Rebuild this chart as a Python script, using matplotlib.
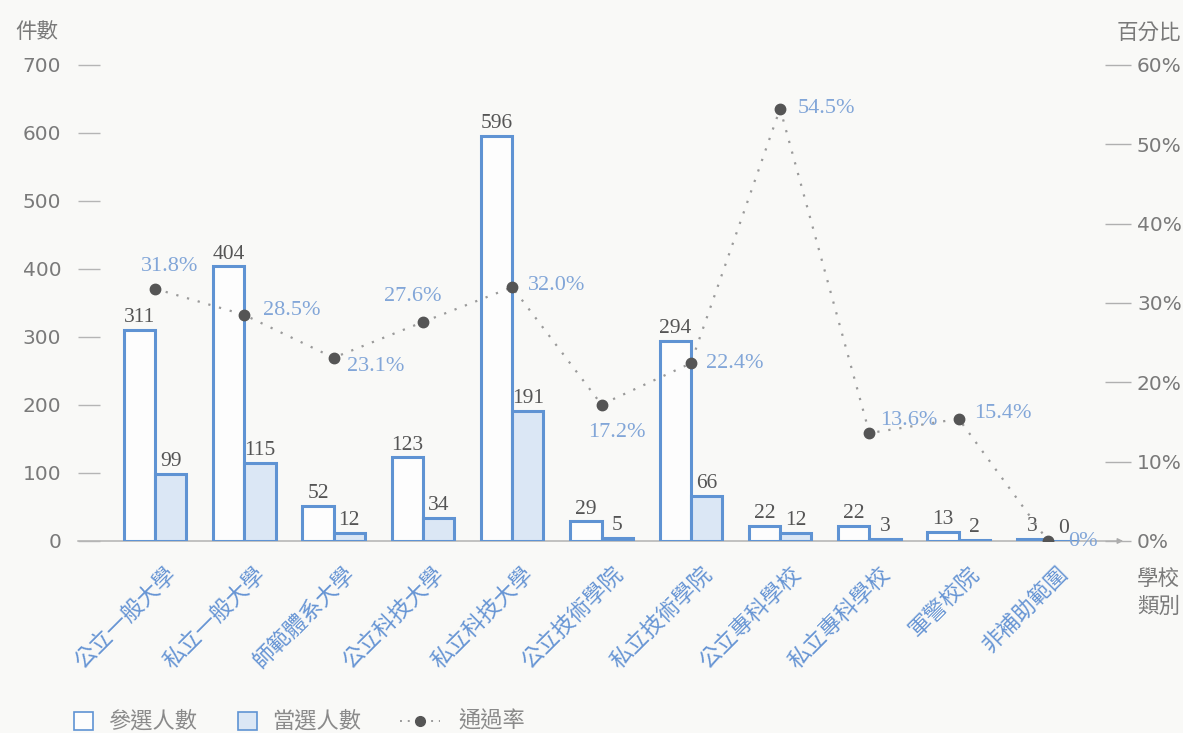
import matplotlib
matplotlib.use("Agg")
import matplotlib.pyplot as plt
from matplotlib.patches import Rectangle
from matplotlib.lines import Line2D

# ---------------- data ----------------
categories = ["公立一般大學", "私立一般大學", "師範體系大學", "公立科技大學", "私立科技大學",
              "公立技術學院", "私立技術學院", "公立專科學校", "私立專科學校", "軍警校院", "非補助範圍"]
candidates = [311, 404, 52, 123, 596, 29, 294, 22, 22, 13, 3]
elected = [99, 115, 12, 34, 191, 5, 66, 12, 3, 2, 0]
pass_rate = [31.8, 28.5, 23.1, 27.6, 32.0, 17.2, 22.4, 54.5, 13.6, 15.4, 0]
rate_labels = ["31.8%", "28.5%", "23.1%", "27.6%", "32.0%", "17.2%", "22.4%", "54.5%", "13.6%", "15.4%", "0%"]
left_ticks = [0, 100, 200, 300, 400, 500, 600, 700]
right_ticks = [0, 10, 20, 30, 40, 50, 60]
right_tick_labels = ["0%", "10%", "20%", "30%", "40%", "50%", "60%"]

# label placement (pixels: dx, dy-down, ha)
rate_label_pos = [(15, -22, "center"), (19, -4, "left"), (13, 9, "left"), (-10, -26, "center"),
                  (16, -2, "left"), (15, 28, "center"), (15, 0, "left"), (18, 0, "left"),
                  (11, -13, "left"), (15, -5, "left"), (20, 0, "left")]

CJK = ["Noto Sans CJK TC", "DejaVu Sans"]
SERIF = ["Liberation Serif", "DejaVu Serif"]
BG = "#f9f9f7"
EDGE = "#5f93d3"
FILL = "#dbe7f5"
CAT_C = "#6795d4"
PCT_C = "#82a6d8"
GRAY = "#7a7a7a"

W, H = 1183, 733
fig = plt.figure(figsize=(W / 100, H / 100), dpi=100, facecolor=BG)

ax_l, ax_r, ax_top, ax_bot = 78, 1105, 65, 541
ax = fig.add_axes([ax_l / W, (H - ax_bot) / H, (ax_r - ax_l) / W, (ax_bot - ax_top) / H])
ax.set_facecolor(BG)
ax.set_xlim(-0.862, 10.638)
ax.set_ylim(0, 700)
for s in ax.spines.values():
    s.set_visible(False)

x = list(range(len(categories)))
bw = 0.35
ax.bar([i - bw / 2 for i in x], candidates, width=bw, facecolor="#fdfdfd",
       edgecolor=EDGE, linewidth=2.2, zorder=3)
ax.bar([i + bw / 2 for i in x], elected, width=bw, facecolor=FILL,
       edgecolor=EDGE, linewidth=2.2, zorder=3)

for i in x:
    ax.annotate(str(candidates[i]), (i - bw / 2, candidates[i]), xytext=(0, 2),
                textcoords="offset points", ha="center", va="bottom",
                fontsize=15.5, color="#555555", family=SERIF, zorder=5)
    ax.annotate(str(elected[i]), (i + bw / 2, elected[i]), xytext=(0, 2),
                textcoords="offset points", ha="center", va="bottom",
                fontsize=15.5, color="#555555", family=SERIF, zorder=5)

# zero axis line with arrow
ax.annotate("", xy=((1126 - ax_l) / (ax_r - ax_l), 0), xytext=(-0.003, 0),
            xycoords=ax.get_yaxis_transform(), textcoords=ax.get_yaxis_transform(),
            arrowprops=dict(arrowstyle="-|>", color="#aaaaaa", lw=1.0, mutation_scale=8),
            zorder=1, annotation_clip=False)

ax.set_xticks([])
ax.set_yticks(left_ticks)
ax.set_yticklabels([str(v) for v in left_ticks])
ax.tick_params(axis="y", direction="in", length=16, width=1, color="#b5b5b5",
               pad=12, labelsize=14.5, labelcolor=GRAY)

# category labels
for i, c in enumerate(categories):
    ax.text(i + 0.29, -0.045, c, transform=ax.get_xaxis_transform(), rotation=45,
            ha="right", va="top", fontsize=16, color=CAT_C, family=CJK)

# pass rate on secondary axis
ax2 = ax.twinx()
ax2.set_ylim(0, 60)
for s in ax2.spines.values():
    s.set_visible(False)
ax2.plot(x, pass_rate, linestyle=(0, (1, 4)), color="#9a9a9a", lw=1.6,
         marker="o", markersize=7.5, markerfacecolor="#555555",
         markeredgecolor="#555555", zorder=6)
ax2.set_yticks(right_ticks)
ax2.set_yticklabels(right_tick_labels)
ax2.tick_params(axis="y", direction="out", length=19, width=1, color="#b0b0b0",
                pad=4, labelsize=14.5, labelcolor=GRAY)
for i, (lab, (dx, dy, ha)) in enumerate(zip(rate_labels, rate_label_pos)):
    ax2.annotate(lab, (i, pass_rate[i]), xytext=(dx * 0.72, -dy * 0.72),
                 textcoords="offset points", ha=ha, va="center",
                 fontsize=16, color=PCT_C, family=SERIF, zorder=7,
                 annotation_clip=False)

# overlay for titles and legend, pixel coords
ov = fig.add_axes([0, 0, 1, 1], facecolor="none")
ov.set_xlim(0, W)
ov.set_ylim(H, 0)
ov.axis("off")

ov.text(15, 32, "件數", fontsize=15.5, color=GRAY, family=CJK, ha="left", va="center")
ov.text(1181, 33, "百分比", fontsize=15.5, color=GRAY, family=CJK, ha="right", va="center")
ov.text(1137, 579, "學校", fontsize=15.5, color=GRAY, family=CJK, ha="left", va="center")
ov.text(1137, 607, "類別", fontsize=15.5, color=GRAY, family=CJK, ha="left", va="center")

ov.add_patch(Rectangle((74, 712), 19, 18, facecolor="#fdfdfd", edgecolor=EDGE, lw=1.2))
ov.text(108, 721, "參選人數", fontsize=16, color="#8a8a8a", family=CJK, ha="left", va="center")
ov.add_patch(Rectangle((238, 712), 19, 18, facecolor=FILL, edgecolor=EDGE, lw=1.2))
ov.text(272, 721, "當選人數", fontsize=16, color="#8a8a8a", family=CJK, ha="left", va="center")
ov.add_line(Line2D([400, 440], [721, 721], linestyle=(0, (1, 3)), color="#9a9a9a", lw=1.4))
ov.add_line(Line2D([420], [721], marker="o", markersize=7, color="#555555"))
ov.text(458, 721, "通過率", fontsize=16, color="#8a8a8a", family=CJK, ha="left", va="center")

fig.savefig("out.png", dpi=100, facecolor=BG)
